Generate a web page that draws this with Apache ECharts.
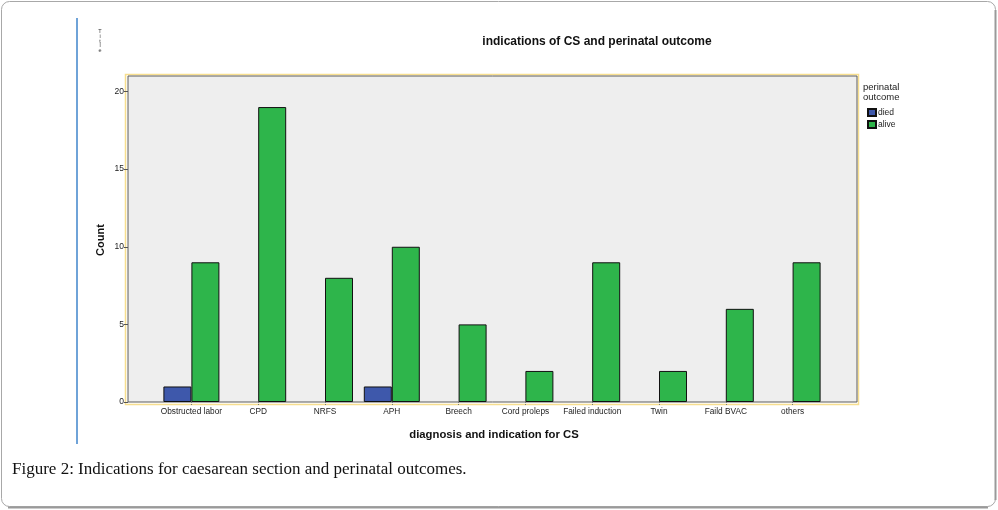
<!DOCTYPE html>
<html>
<head>
<meta charset="utf-8">
<script src="https://cdn.jsdelivr.net/npm/echarts@6/dist/echarts.min.js"></script>
<style>
html,body{margin:0;padding:0;background:#fff;}
#chart{width:998px;height:510px;}
</style>
</head>
<body>
<div id="chart"></div>
<script>
var categories = ['Obstructed labor','CPD','NRFS','APH','Breech','Cord proleps','Failed induction','Twin','Faild BVAC','others'];
var died = [1,0,0,1,0,0,0,0,0,0];
var alive = [9,19,8,10,5,2,9,2,6,9];
var yTicks = [0,5,10,15,20];
var seriesNames = ['died','alive'];

// SPSS does not draw zero-height bars
function hideZero(arr){ return arr.map(function(v){ return v === 0 ? null : v; }); }

var chart = echarts.init(document.getElementById('chart'));
var F = 'Liberation Sans, Arial, sans-serif';
var option = {
  animation:false,
  backgroundColor:'#ffffff',
  grid:[
    {left:128, top:76, width:729, height:326, show:true, backgroundColor:'#eeeeee', borderColor:'#5c5c5c', borderWidth:1},
    {left:158, top:76, width:668, height:326}
  ],
  xAxis:[
    {gridIndex:0, type:'value', show:false, min:0, max:1},
    {gridIndex:1, type:'category', data:categories, boundaryGap:true,
     axisLine:{show:false},
     axisTick:{show:true, alignWithLabel:true, length:4, lineStyle:{color:'#777', type:[1,1]}},
     axisLabel:{fontFamily:F, fontSize:8.3, color:'#222', margin:6, interval:0}}
  ],
  yAxis:[
    {gridIndex:0, type:'value', show:false, min:0, max:1},
    {gridIndex:1, type:'value', min:0, max:21, interval:5, offset:30,
     axisLine:{show:false},
     splitLine:{show:false},
     axisTick:{show:true, length:4, lineStyle:{color:'#555'}, customValues: yTicks},
     axisLabel:{fontFamily:F, fontSize:8.5, color:'#222', margin:4, customValues: yTicks}}
  ],
  legend:{
    data:seriesNames, orient:'vertical', left:867, top:108,
    icon:'rect', itemWidth:8, itemHeight:7, itemGap:3,
    textStyle:{fontFamily:F, fontSize:8.5, color:'#222', padding:[0,0,0,-3]},
    padding:0
  },
  series:[
    {name:'died', type:'bar', xAxisIndex:1, yAxisIndex:1, data:hideZero(died), barWidth:28, barGap:'0%',
     itemStyle:{color:'#3e58ab', borderColor:'#111', borderWidth:1}},
    {name:'alive', type:'bar', xAxisIndex:1, yAxisIndex:1, data:hideZero(alive), barWidth:28, barGap:'0%',
     itemStyle:{color:'#2eb54b', borderColor:'#111', borderWidth:1}}
  ],
  graphic:[
    {type:'rect', shape:{x:1.5, y:1.5, width:994, height:505, r:8}, style:{fill:'none', stroke:'#a8a8a8', lineWidth:1}, z:-1},
    {type:'line', shape:{x1:8, y1:507.5, x2:988, y2:507.5}, style:{stroke:'#9a9a9a', lineWidth:2}},
    {type:'line', shape:{x1:995.5, y1:10, x2:995.5, y2:500}, style:{stroke:'#9a9a9a', lineWidth:2}},
    {type:'line', shape:{x1:77, y1:18, x2:77, y2:444}, style:{stroke:'#6fa3d8', lineWidth:2}},
    {type:'rect', shape:{x:125.5, y:74.5, width:733, height:330}, style:{fill:'none', stroke:'#f7de8e', lineWidth:1.5}, z:-1},
    {type:'text', x:100, y:29, style:{text:'T\ni\nt\nl\ne', fontFamily:F, fontSize:5.5, lineHeight:4.8, fill:'#333', align:'center'}},
    {type:'text', x:597, y:42, style:{text:'indications of CS and perinatal outcome', fontFamily:F, fontSize:12, fontWeight:'bold', fill:'#111', align:'center', verticalAlign:'middle'}},
    {type:'text', x:101, y:240, rotation:Math.PI/2, style:{text:'Count', fontFamily:F, fontSize:11, fontWeight:'bold', fill:'#111', align:'center', verticalAlign:'middle'}},
    {type:'text', x:494, y:435, style:{text:'diagnosis and indication for CS', fontFamily:F, fontSize:11.3, fontWeight:'bold', fill:'#111', align:'center', verticalAlign:'middle'}},
    {type:'text', x:863, y:82, style:{text:'perinatal\noutcome', fontFamily:F, fontSize:9.5, lineHeight:10.5, fill:'#222'}},
    {type:'text', x:12, y:470, style:{text:'Figure 2: Indications for caesarean section and perinatal outcomes.', fontFamily:'Liberation Serif, Times New Roman, serif', fontSize:17, fill:'#111', verticalAlign:'middle'}}
  ]
};
chart.setOption(option);
</script>
</body>
</html>
